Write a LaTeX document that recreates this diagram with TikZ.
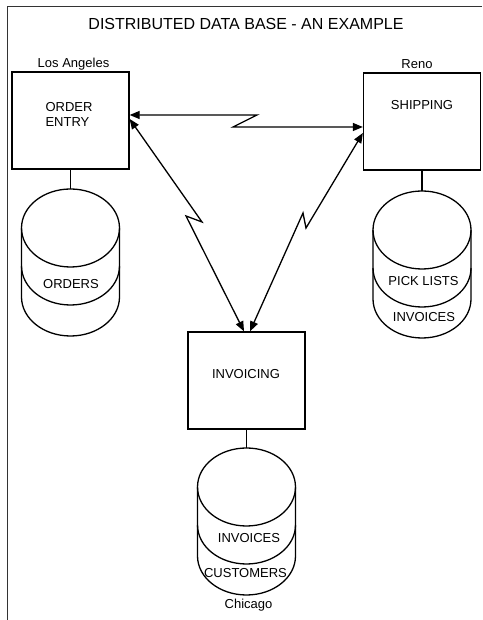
\documentclass[tikz,border=0pt]{standalone}
\usepackage{fontspec}
\setmainfont{Liberation Sans}
\usetikzlibrary{arrows.meta,positioning}

\begin{document}
\begin{tikzpicture}[x=1pt, y=1pt, line width=1.3pt,
    sitebox/.style={rectangle, draw, minimum width=117pt, minimum height=97pt, inner sep=0pt},
    boxtext/.style={inner sep=0pt, font=\fontsize{13}{15}\selectfont, align=left},
    place/.style={inner sep=0pt, font=\fontsize{13}{15}\selectfont, anchor=base},
    link/.style={{Triangle[length=10pt,width=8pt]}-{Triangle[length=10pt,width=8pt]}},
    dbstack/.pic={
        \draw (0,0) ellipse[x radius=49, y radius=39];
        \draw (-49,0) -- (-49,-69) arc[start angle=180, end angle=360, x radius=49, y radius=39] -- (49,0);
        \draw (-49,-38) arc[start angle=180, end angle=360, x radius=49, y radius=39];
        \coordinate (-top) at (0,39);
        \coordinate (-base) at (0,-108);
    }]

\useasboundingbox (0,0) rectangle (482,620);
% page frame
\draw[line width=0.8pt, black!80] (482,614) -- (7,614) -- (7,0);

\node[font=\fontsize{16}{19}\selectfont, inner sep=0pt] (title) at (246,596) {DISTRIBUTED DATA BASE - AN EXAMPLE};

% sites
\node[sitebox] (orderbox) at (70.5,499.5) {};
\node[sitebox] (shipbox) at (422,498.5) {};
\node[sitebox] (invbox) at (246.5,239.5) {};

\node[boxtext] (ordertext) at ([xshift=-1.5pt,yshift=6.5pt]orderbox.center) {ORDER\\ENTRY};
\node[boxtext] (shiptext) at ([yshift=16.8pt]shipbox.center) {SHIPPING};
\node[boxtext] (invtext) at ([xshift=-0.5pt,yshift=6.5pt]invbox.center) {INVOICING};

\node[place] (la) at ([xshift=3pt,yshift=4pt]orderbox.north) {Los Angeles};
\node[place] (reno) at ([xshift=-5pt,yshift=4pt]shipbox.north) {Reno};

% data bases
\pic (orderdb) at (70.5,392) {dbstack};
\pic (shipdb) at (422,390) {dbstack};
\pic (invdb) at (246.5,133) {dbstack};

\draw (orderbox) -- (orderdb-top);
\draw (shipbox) -- (shipdb-top);
\draw (invbox) -- (invdb-top);

\node[boxtext] (orders) at (71,336) {ORDERS};
\node[boxtext] (picklists) at (423.5,339) {PICK LISTS};
\node[boxtext] (shipinv) at (424,303) {INVOICES};
\node[boxtext] (chiinv) at (249,82) {INVOICES};
\node[boxtext] (customers) at (245.5,47) {CUSTOMERS};
\node[place] (chicago) at ([xshift=2pt,yshift=-13pt]invdb-base) {Chicago};

% communication links
\draw[link] ([yshift=5.5pt]orderbox.east) -- (257,505) -- (233,493) -- ([yshift=-5.5pt]shipbox.west);
\draw[link] ([yshift=1.5pt]orderbox.east) -- (202,398) -- (186,404) -- ([xshift=-2.5pt]invbox.north);
\draw[link] ([yshift=-11.5pt]shipbox.west) -- (306,392) -- (303,407) -- ([xshift=3.5pt]invbox.north);
\end{tikzpicture}
\end{document}
